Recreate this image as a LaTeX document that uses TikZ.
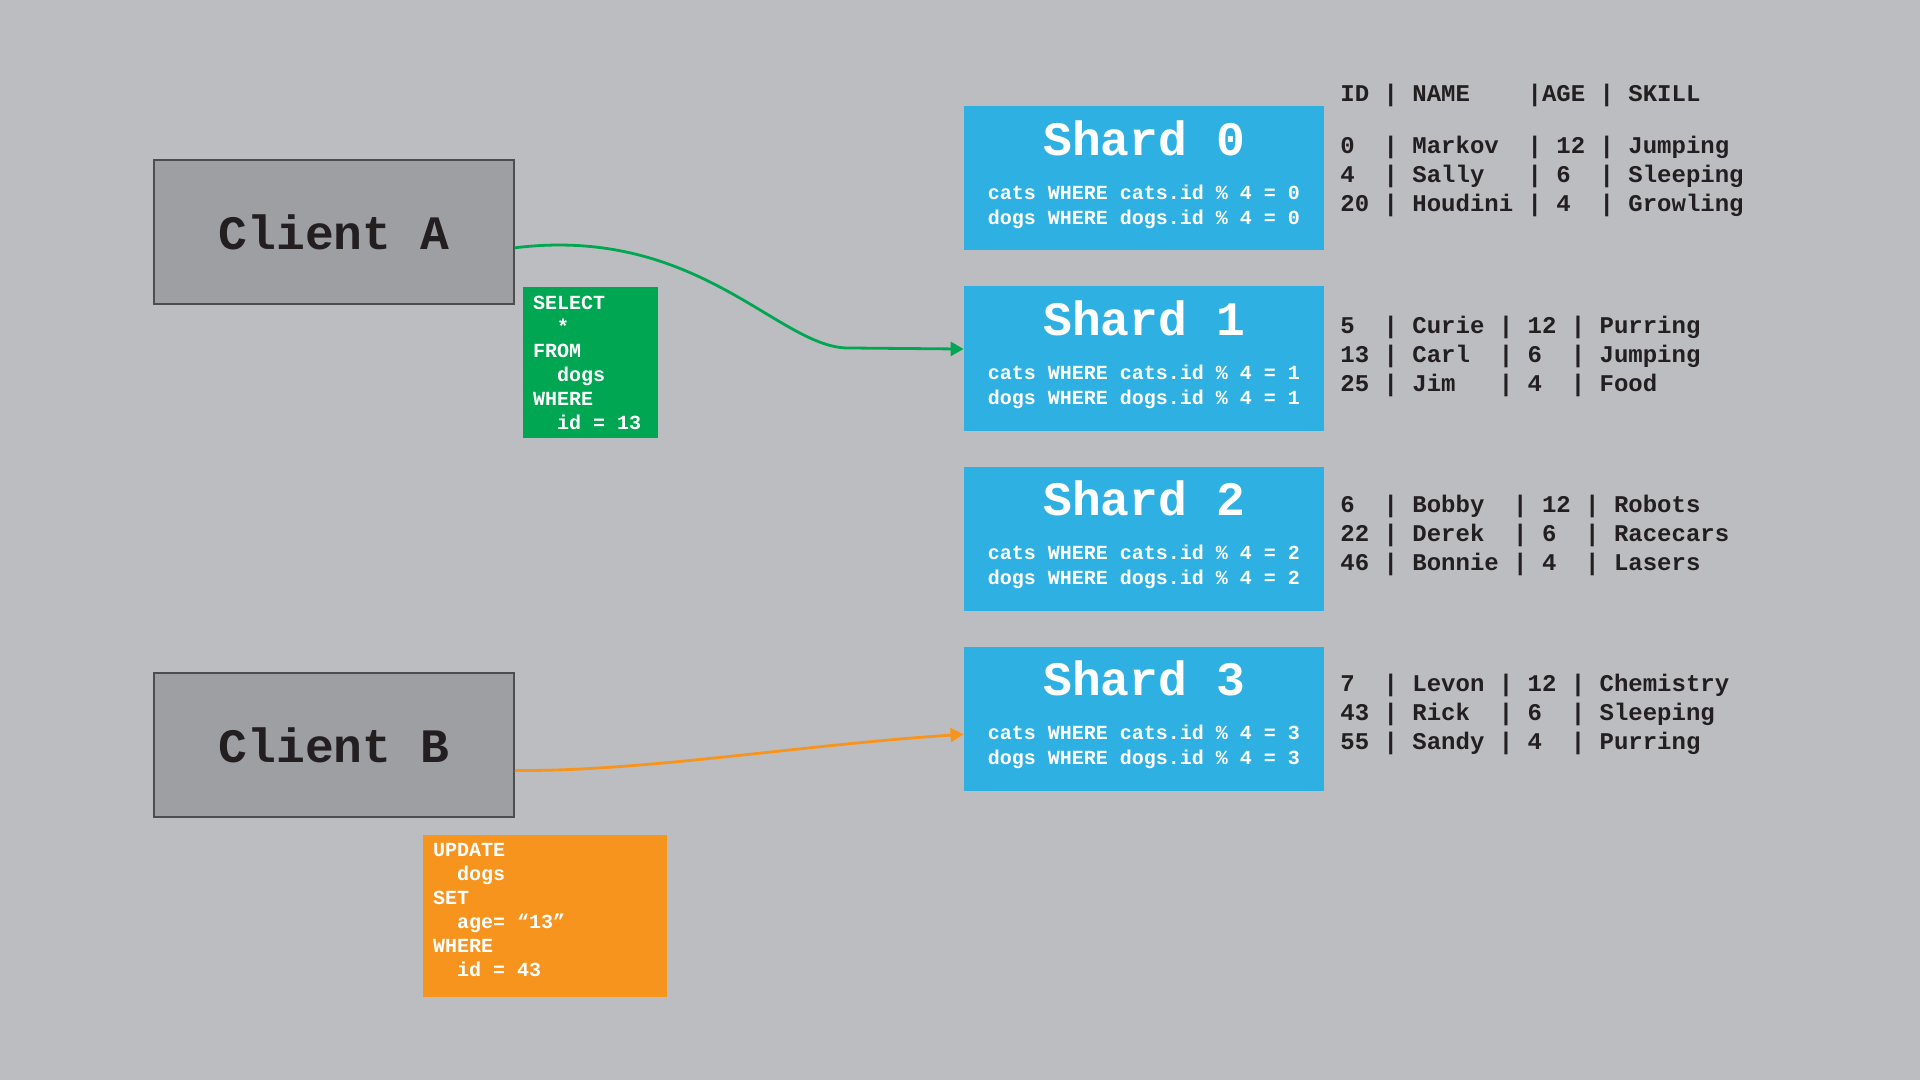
\documentclass[tikz,border=0pt]{standalone}
\usepackage{fontspec}
\setmainfont{Liberation Mono}
\usetikzlibrary{arrows.meta}
\definecolor{bg}{HTML}{BCBDC0}
\definecolor{clientgray}{HTML}{9E9FA3}
\definecolor{shardblue}{HTML}{2FB0E2}
\definecolor{sqlgreen}{HTML}{00A651}
\definecolor{sqlorange}{HTML}{F7941E}
\definecolor{ink}{HTML}{231F20}
\newcommand\sqlindent{\hspace*{1.2em}}

\begin{document}
\begin{tikzpicture}[x=0.5pt,y=-0.5pt,
  client/.style={rectangle, draw=ink!80, line width=0.75pt, fill=clientgray,
    minimum width=180pt, minimum height=72pt, text=ink,
    font=\fontsize{24}{29}\selectfont\bfseries},
  shard/.style={rectangle, fill=shardblue, minimum width=180pt, minimum height=72pt},
  shardname/.style={font=\fontsize{24}{29}\selectfont\bfseries, color=white},
  rule/.style={align=left, font=\fontsize{10}{12.25}\selectfont\bfseries, color=white},
  tablerows/.style={anchor=west, align=left, inner sep=0pt, text=ink,
    font=\fontsize{12}{14.5}\selectfont\bfseries},
  query/.style={rectangle, align=flush left, inner xsep=5pt, color=white,
    font=\fontsize{10}{12}\selectfont\bfseries,
    execute at begin node={\spaceskip=0.6em\relax}},
  tip/.style={-{Triangle[length=6.5pt,width=7pt]}}]

\fill[bg] (0,0) rectangle (1920,1080);
\useasboundingbox (0,0) rectangle (1920,1080);

% clients
\node[client] (cA) at (334,232) {Client A};
\node[client] (cB) at (334,745) {Client B};

% queries
\node[query, fill=sqlgreen, text width=57.5pt, minimum height=75.5pt] (q1) at (590.5,362.5)
  {SELECT\\\sqlindent *\\FROM\\\sqlindent dogs\\WHERE\\\sqlindent id = 13};
\node[query, fill=sqlorange, text width=112pt, minimum height=81pt] (q2) at (545,916)
  {UPDATE\\\sqlindent dogs\\SET\\\sqlindent age= “13”\\WHERE\\\sqlindent id = 43\rule[-6pt]{0pt}{6pt}};

% shards
\node[shard] (s0) at (1144,178.5) {};
\node[shard] (s1) at (1144,358.5) {};
\node[shard] (s2) at (1144,538.5) {};
\node[shard] (s3) at (1144,718.5) {};

\node[shardname] (n0) at (1144,138) {Shard 0};
\node[shardname] (n1) at (1144,318) {Shard 1};
\node[shardname] (n2) at (1144,498) {Shard 2};
\node[shardname] (n3) at (1144,678) {Shard 3};

\node[rule] (r0) at (1144,207) {cats WHERE cats.id \% 4 = 0\\dogs WHERE dogs.id \% 4 = 0};
\node[rule] (r1) at (1144,387) {cats WHERE cats.id \% 4 = 1\\dogs WHERE dogs.id \% 4 = 1};
\node[rule] (r2) at (1144,567) {cats WHERE cats.id \% 4 = 2\\dogs WHERE dogs.id \% 4 = 2};
\node[rule] (r3) at (1144,747) {cats WHERE cats.id \% 4 = 3\\dogs WHERE dogs.id \% 4 = 3};

% table contents
\node[tablerows] (head) at (1340,95) {ID | NAME~~~~|AGE | SKILL};
\node[tablerows] (d0) at (1340,176)
  {0~~| Markov~~| 12 | Jumping\\4~~| Sally~~~| 6~~| Sleeping\\20 | Houdini | 4~~| Growling};
\node[tablerows] (d1) at (1340,356)
  {5~~| Curie | 12 | Purring\\13 | Carl~~| 6~~| Jumping\\25 | Jim~~~| 4~~| Food};
\node[tablerows] (d2) at (1340,535)
  {6~~| Bobby~~| 12 | Robots\\22 | Derek~~| 6~~| Racecars\\46 | Bonnie | 4~~| Lasers};
\node[tablerows] (d3) at (1340,714)
  {7~~| Levon | 12 | Chemistry\\43 | Rick~~| 6~~| Sleeping\\55 | Sandy | 4~~| Purring};

% requests
\draw[sqlgreen, line width=1.4pt, tip] (cA.-5) .. controls (700,225) and (780,350) .. (850,348) -- (s1.177);
\draw[sqlorange, line width=1.4pt, tip] (cB.-8) .. controls (640,772) and (800,745) .. (s3.185);

\end{tikzpicture}
\end{document}
